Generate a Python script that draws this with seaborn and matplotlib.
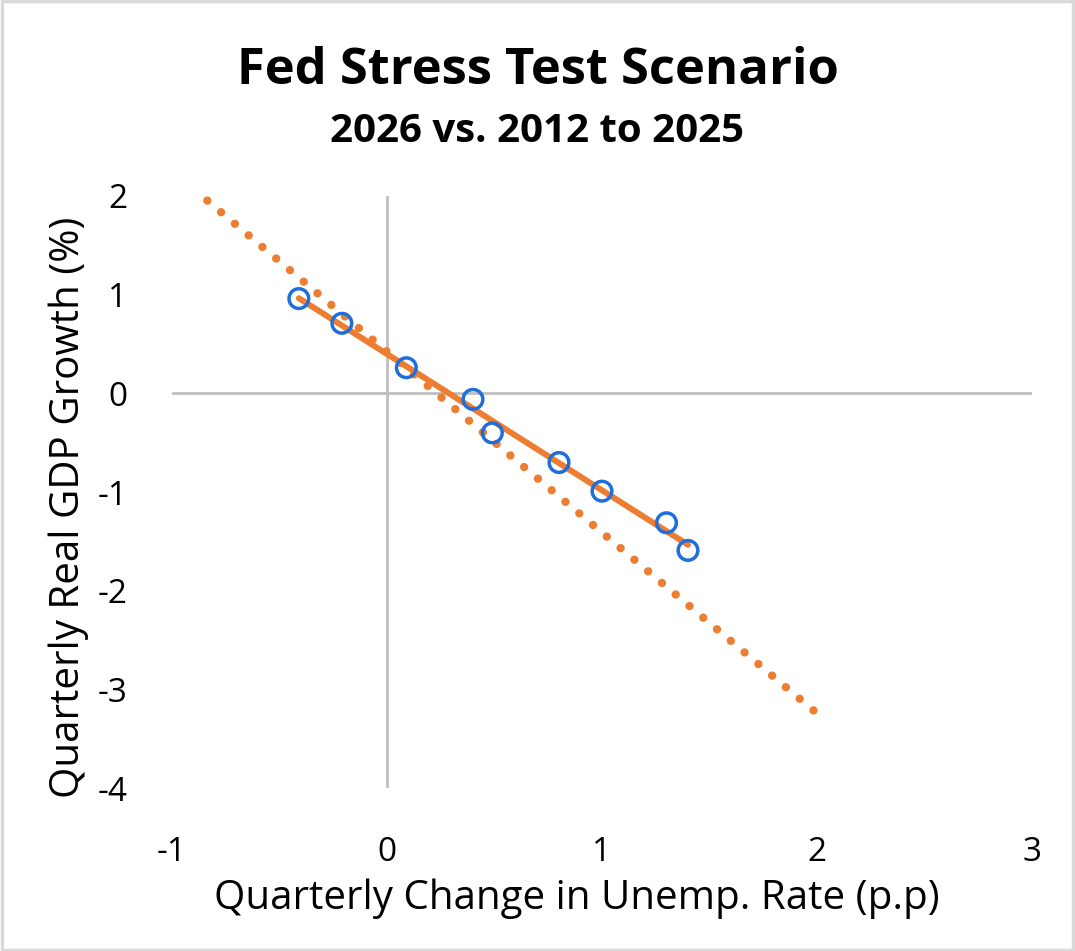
import matplotlib.pyplot as plt
import matplotlib.patches as patches
import numpy as np
import pandas as pd
import seaborn as sns

# quarterly change in unemployment rate (p.p) vs real GDP growth (%), 2026 scenario
unemp_change = [-0.41, -0.21, 0.09, 0.40, 0.49, 0.80, 1.00, 1.30, 1.40]
gdp_growth = [0.96, 0.71, 0.26, -0.06, -0.40, -0.70, -0.99, -1.31, -1.59]

# historical 2012-2025 relationship (dotted line)
hist_x = [-0.9, 2.0]
hist_y = [2.07, -3.24]

BLUE = "#1F6FDB"
ORANGE = "#ED7D31"

sns.set_style("white")
plt.rcParams['font.family'] = ['Open Sans', 'DejaVu Sans']
plt.rcParams['axes.unicode_minus'] = False
plt.rcParams['text.color'] = 'black'
plt.rcParams['axes.labelcolor'] = 'black'
plt.rcParams['xtick.color'] = 'black'
plt.rcParams['ytick.color'] = 'black'

df = pd.DataFrame({"x": unemp_change, "y": gdp_growth})
slope, intercept = np.polyfit(df["x"], df["y"], 1)
fit = pd.DataFrame({"x": [df["x"].min(), df["x"].max()]})
fit["y"] = intercept + slope * fit["x"]
hist = pd.DataFrame({"x": hist_x, "y": hist_y})

fig = plt.figure(figsize=(10.75, 9.51), dpi=100)
ax = fig.add_axes([0.160, 0.171, 0.800, 0.623])

ax.axhline(0, color="#BFBFBF", lw=2, zorder=0)
ax.axvline(0, color="#BFBFBF", lw=2, zorder=0)

sns.lineplot(data=hist, x="x", y="y", ax=ax, color=ORANGE, lw=6.0,
             linestyle=(0, (0.01, 2.15)), dash_capstyle="round", zorder=2)
sns.lineplot(data=fit, x="x", y="y", ax=ax, color=ORANGE, lw=4.3,
             solid_capstyle="round", zorder=3)
sns.scatterplot(data=df, x="x", y="y", ax=ax, s=200, marker="o",
                facecolors="none", edgecolor=BLUE, linewidth=2.5, zorder=4)

ax.set_xlim(-1, 3)
ax.set_ylim(-4, 2)
ax.set_xticks([-1, 0, 1, 2, 3])
ax.set_yticks([-4, -3, -2, -1, 0, 1, 2])
ax.tick_params(axis="x", labelsize=24, pad=34, length=0)
ax.tick_params(axis="y", labelsize=24, pad=32, length=0)
for s in ax.spines.values():
    s.set_visible(False)

ax.set_xlabel("Quarterly Change in Unemp. Rate (p.p)", fontsize=29)
ax.set_ylabel("Quarterly Real GDP Growth (%)", fontsize=29)
ax.xaxis.set_label_coords(0.471, -0.152)
ax.yaxis.set_label_coords(-0.097, 0.475)

fig.text(0.5, 0.925, "Fed Stress Test Scenario", ha="center", va="center",
         fontsize=36.5, fontweight="bold")
fig.text(0.5, 0.862, "2026 vs. 2012 to 2025", ha="center", va="center",
         fontsize=29, fontweight="bold")

fig.patches.append(patches.Rectangle((0.0015, 0.0015), 0.997, 0.997, transform=fig.transFigure,
                                     fill=False, edgecolor="#D9D9D9", lw=2.5))

fig.savefig("out.png", dpi=100)
